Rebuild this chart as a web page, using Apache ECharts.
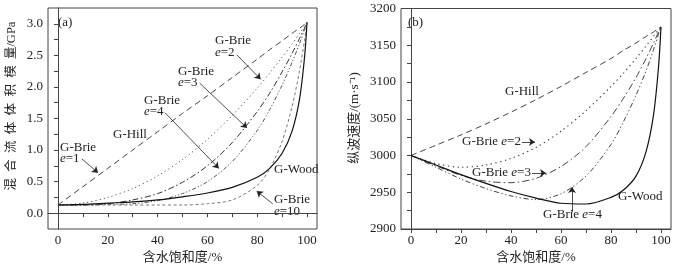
<!DOCTYPE html>
<html>
<head>
<meta charset="utf-8">
<script src="https://cdn.jsdelivr.net/npm/echarts@6.0.0/dist/echarts.min.js"></script>
<style>
html, body { margin: 0; padding: 0; background: #fff; }
#chart { width: 682px; height: 269px; }
</style>
</head>
<body>
<div id="chart"></div>
<script>
// 含水饱和度 /%
var satur = [0, 10, 20, 30, 40, 50, 60, 70, 80, 85, 90, 94, 97, 99, 100];

// (a) 混合流体体积模量 /GPa
var kBrie1  = [0.13, 0.42, 0.71, 1.00, 1.29, 1.58, 1.86, 2.15, 2.44, 2.59, 2.73, 2.85, 2.93, 2.99, 3.02];
var kBrie2  = [0.13, 0.16, 0.25, 0.39, 0.59, 0.85, 1.17, 1.55, 1.98, 2.22, 2.47, 2.68, 2.85, 2.96, 3.02];
var kBrie3  = [0.13, 0.13, 0.15, 0.21, 0.31, 0.49, 0.75, 1.12, 1.61, 1.90, 2.24, 2.53, 2.77, 2.93, 3.02];
var kBrie4  = [0.13, 0.13, 0.14, 0.15, 0.20, 0.31, 0.50, 0.82, 1.31, 1.64, 2.03, 2.39, 2.69, 2.91, 3.02];
var kBrie10 = [0.13, 0.13, 0.13, 0.13, 0.13, 0.13, 0.15, 0.21, 0.44, 0.70, 1.14, 1.69, 2.26, 2.74, 3.02];
var kWood   = [0.13, 0.14, 0.16, 0.18, 0.21, 0.26, 0.32, 0.41, 0.57, 0.71, 0.95, 1.30, 1.81, 2.47, 3.02];

// (b) 纵波速度 /(m·s-1)
var vHill  = [3000, 3014, 3028, 3043, 3059, 3076, 3094, 3113, 3132, 3143, 3153, 3162, 3168, 3173, 3175];
var vBrie2 = [3000, 2989, 2984, 2987, 2996, 3011, 3033, 3061, 3094, 3112, 3132, 3149, 3162, 3171, 3175];
var vBrie3 = [3000, 2986, 2973, 2965, 2963, 2969, 2985, 3012, 3053, 3078, 3106, 3132, 3153, 3168, 3175];
var vBrie4 = [3000, 2984, 2968, 2955, 2945, 2940, 2948, 2972, 3015, 3046, 3082, 3115, 3144, 3165, 3175];
var vWood  = [3000, 2987, 2974, 2962, 2951, 2942, 2935, 2934, 2943, 2953, 2972, 3005, 3055, 3120, 3175];

// 刻度
var xTicks  = [0, 10, 20, 30, 40, 50, 60, 70, 80, 90, 100];
var xLabels = [0, 20, 40, 60, 80, 100];
var kTicks  = [0, 0.25, 0.5, 0.75, 1, 1.25, 1.5, 1.75, 2, 2.25, 2.5, 2.75, 3];
var kLabels = [0, 0.5, 1, 1.5, 2, 2.5, 3];
var vTicks  = [2900, 2925, 2950, 2975, 3000, 3025, 3050, 3075, 3100, 3125, 3150, 3175, 3200];
var vLabels = [2900, 2950, 3000, 3050, 3100, 3150, 3200];

var SERIF = '"Liberation Serif", "Times New Roman", serif';
var CJK = '"Liberation Serif", "Noto Sans CJK SC", serif';
var INK = '#222';
var AXIS = '#444';

function pairs(ys) {
	return satur.map(function(x, i) { return [x, ys[i]]; });
}

function xAxisOf(idx) {
	return {
		type : 'value', gridIndex : idx, min : -4, max : 104,
		axisLine : { lineStyle : { color : AXIS, width : 1 } },
		axisTick : { customValues : xTicks, length : 4, lineStyle : { color : AXIS } },
		axisLabel : { customValues : xLabels, color : INK, fontFamily : SERIF, fontSize : 13, margin : 5 },
		splitLine : { show : false }
	};
}

function yAxisOf(idx, min, max, ticks, labels, fmt) {
	return {
		type : 'value', gridIndex : idx, min : min, max : max,
		axisLine : { show : true, lineStyle : { color : AXIS, width : 1 } },
		axisTick : { show : true, customValues : ticks, length : 4, lineStyle : { color : AXIS } },
		axisLabel : { customValues : labels, color : INK, fontFamily : SERIF, fontSize : 13, margin : 5, formatter : fmt },
		splitLine : { show : false }
	};
}

function curve(idx, ys, dash, color, w) {
	return {
		type : 'line', xAxisIndex : idx, yAxisIndex : idx,
		data : pairs(ys), symbol : 'none', showSymbol : false,
		smooth : 0.3, silent : true,
		lineStyle : { type : dash, color : color, width : w }
	};
}

// 箭头(数据坐标)
function arrows(list) {
	return {
		silent : true, symbol : [ 'none', 'arrow' ], symbolSize : 6, animation : false,
		label : { show : false },
		lineStyle : { type : 'solid', color : '#222', width : 0.8 },
		data : list.map(function(a) { return [ { coord : [a[0], a[1]] }, { coord : [a[2], a[3]] } ]; })
	};
}

function note(x, y, txt) {
	return {
		type : 'text', x : x, y : y, silent : true,
		style : {
			text : txt, fill : INK, fontFamily : SERIF, fontSize : 13, lineHeight : 11.5,
			align : 'left', verticalAlign : 'middle',
			rich : { i : { fontStyle : 'italic', fontFamily : SERIF, fontSize : 13, fill : INK, lineHeight : 11.5 } }
		}
	};
}

function cjk(x, y, txt, rot, size) {
	return {
		type : 'text', x : x, y : y, rotation : rot || 0, silent : true,
		style : { text : txt, fill : INK, fontFamily : CJK, fontSize : size || 13, align : 'center', verticalAlign : 'middle' }
	};
}

var woodA = curve(0, kWood, 'solid', '#111', 1.2);
woodA.markLine = arrows([
	[71.8, 2.51, 81.4, 2.12],
	[56.9, 2.06, 75.9, 1.35],
	[43.0, 1.59, 64.6, 0.71],
	[9.6, 0.86, 16.1, 0.64],
	[86.2, 0.15, 79.8, 0.35]
]);

var woodB = curve(1, vWood, 'solid', '#111', 1.2);
woodB.markLine = arrows([
	[44.4, 3018.4, 49.6, 3018.4],
	[48.4, 2976.2, 54.0, 2976.2],
	[64.4, 2923.0, 64.4, 2957.0]
]);

var chart = echarts.init(document.getElementById('chart'));
chart.setOption({
	animation : false,
	backgroundColor : '#fff',
	grid : [
		{ left : 48, top : 8, width : 269, height : 221, show : true, borderColor : AXIS, borderWidth : 1 },
		{ left : 401, top : 8.5, width : 270, height : 220.5, show : true, borderColor : AXIS, borderWidth : 1 }
	],
	xAxis : [ xAxisOf(0), xAxisOf(1) ],
	yAxis : [
		yAxisOf(0, -0.25, 3.25, kTicks, kLabels, function(v) { return v.toFixed(1); }),
		yAxisOf(1, 2900, 3200, vTicks, vLabels, function(v) { return String(v); })
	],
	series : [
		curve(0, kBrie1, [6, 4], '#444', 1),
		curve(0, kBrie2, [1.2, 3], '#555', 1),
		curve(0, kBrie3, [6, 2.5, 1.5, 2.5], '#333', 1),
		curve(0, kBrie4, [4, 2, 1.2, 2, 1.2, 2], '#555', 1),
		curve(0, kBrie10, [3, 2.5], '#777', 1),
		woodA,
		curve(1, vHill, [6, 4], '#444', 1),
		curve(1, vBrie2, [1.3, 3.5], '#333', 1.1),
		curve(1, vBrie3, [7, 3, 1.5, 3], '#444', 1),
		curve(1, vBrie4, [5, 2.5, 1.3, 2.5, 1.3, 2.5], '#444', 1),
		woodB
	],
	graphic : [
		note(58, 23, '(a)'),
		note(215, 46.5, 'G-Brie\n{i|e}=2'),
		note(178, 77, 'G-Brie\n{i|e}=3'),
		note(144, 106, 'G-Brie\n{i|e}=4'),
		note(113, 135, 'G-Hill'),
		note(60, 153, 'G-Brie\n{i|e}=1'),
		note(274, 170, 'G-Wood'),
		note(274, 205.5, 'G-Brie\n{i|e}=10'),
		note(408, 23, '(b)'),
		note(505, 92, 'G-Hill'),
		note(462, 142, 'G-Brie {i|e}=2'),
		note(472, 173, 'G-Brie {i|e}=3'),
		note(618, 197, 'G-Wood'),
		note(543, 215, 'G-Brie {i|e}=4'),
		cjk(182.5, 258, '含水饱和度/%'),
		cjk(536, 258, '含水饱和度/%'),
		cjk(12, 106, '混\u2002合\u2002流\u2002体\u2002体\u2002积\u2002模\u2002量/GPa', Math.PI / 2, 12.5),
		cjk(355, 118, '纵波速度/(m·s⁻¹)', Math.PI / 2)
	]
});
</script>
</body>
</html>
